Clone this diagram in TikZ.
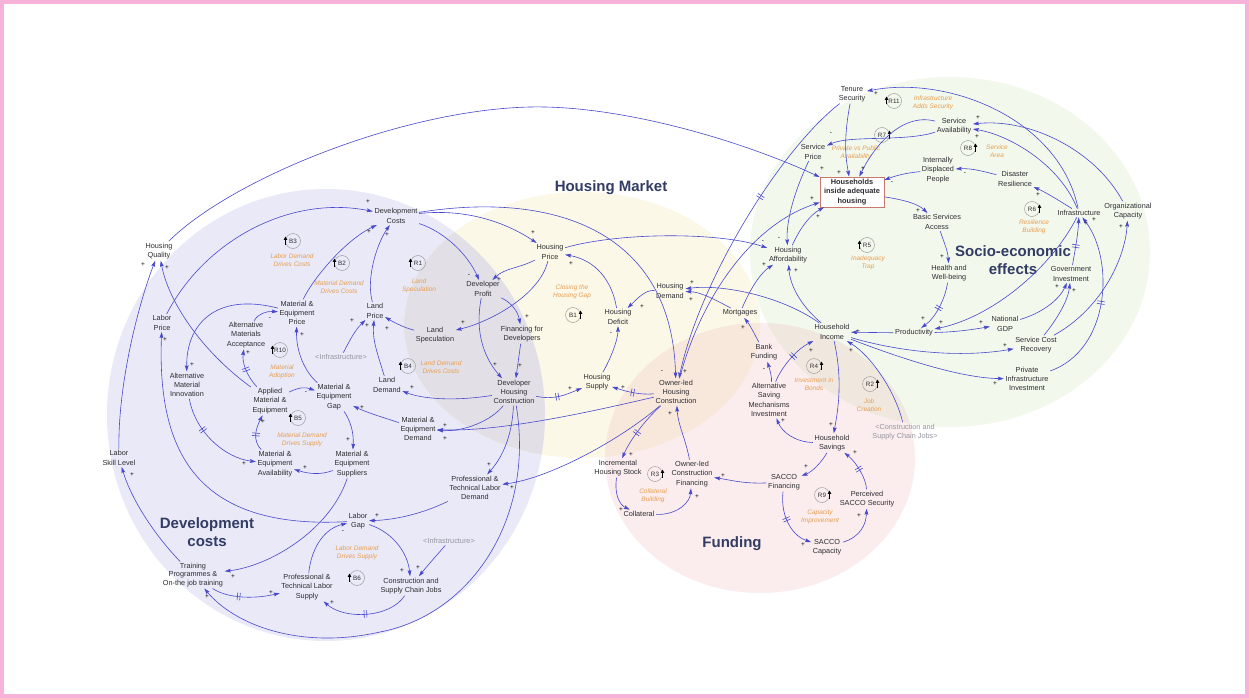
\documentclass[tikz,border=0pt]{standalone}
\usepackage{fontspec}
\setmainfont{Liberation Sans}
\usetikzlibrary{arrows.meta,decorations.markings,shapes.geometric}
\definecolor{frame}{RGB}{246,178,216}
\definecolor{edge}{RGB}{72,72,206}
\definecolor{txt}{RGB}{45,45,50}
\definecolor{ghost}{RGB}{150,150,160}
\definecolor{loopc}{RGB}{232,158,80}
\definecolor{navy}{RGB}{50,60,100}
\definecolor{cblue}{RGB}{233,233,247}
\definecolor{cyel}{RGB}{252,248,231}
\definecolor{cpink}{RGB}{251,237,237}
\definecolor{cgreen}{RGB}{242,248,236}
\definecolor{cby}{RGB}{226,224,230}
\definecolor{cyp}{RGB}{248,232,220}
\definecolor{cyg}{RGB}{243,245,228}
\definecolor{cpg}{RGB}{240,232,222}
\definecolor{boxc}{RGB}{200,120,110}
\newcommand\nf{\fontsize{7.3}{9.3}\selectfont}
\newcommand\sg[3]{\node[sgn] (s-#1-#2) at (#1,#2) {#3};}
\newcommand\lpm[5]{%
  \node[lpc] (#1) at (#2,#3) {#4};
  \draw[-{Triangle[length=3.4pt,width=3.4pt]}, line width=1.1pt, black]
    ([xshift=#5*7.5pt,yshift=-3.5pt]#1.center) -- ([xshift=#5*7.5pt,yshift=4.5pt]#1.center);}
\tikzset{
  nd/.style={align=center, font=\nf, text=txt, inner sep=1.5pt},
  gh/.style={align=center, font=\nf, text=ghost, inner sep=1.5pt},
  lpl/.style={align=center, font=\fontsize{6.5}{8.2}\selectfont\itshape, text=loopc, inner sep=0pt},
  lpc/.style={circle, draw=gray!75, line width=.5pt, inner sep=0pt, minimum size=15pt, font=\fontsize{6.3}{6.5}\selectfont, text=txt},
  sgn/.style={font=\fontsize{6.5}{6.5}\selectfont, text=black, inner sep=0pt},
  ttl/.style={font=\fontsize{15}{18}\selectfont\bfseries, text=navy, align=center},
  lk/.style={draw=edge, line width=.6pt, -{Stealth[length=6pt,width=3.8pt,inset=1pt]}},
  dly/.style={postaction={decorate, decoration={markings, mark=at position #1 with {%
      \draw[edge, line width=.6pt, -] (-1.3pt,-3.8pt) -- (-1.3pt,3.8pt) (1.3pt,-3.8pt) -- (1.3pt,3.8pt);}}}},
  dly/.default=0.5
}
\begin{document}
\begin{tikzpicture}[x=1pt,y=-1pt]
\useasboundingbox (0,0) rectangle (1249,698);
\fill[white] (0,0) rectangle (1249,698);
% regions
\fill[cblue] (326,415) ellipse [x radius=219pt, y radius=226pt];
\fill[cyel] (582,325) ellipse [x radius=178pt, y radius=133pt];
\fill[cpink] (760,458) ellipse [x radius=155pt, y radius=135pt];
\fill[cgreen] (950,252) ellipse [x radius=200pt, y radius=175pt];
\begin{scope}
  \clip (326,415) ellipse [x radius=219pt, y radius=226pt];
  \fill[cby] (582,325) ellipse [x radius=178pt, y radius=133pt];
\end{scope}
\begin{scope}
  \clip (582,325) ellipse [x radius=178pt, y radius=133pt];
  \fill[cyp] (760,458) ellipse [x radius=155pt, y radius=135pt];
\end{scope}
\begin{scope}
  \clip (582,325) ellipse [x radius=178pt, y radius=133pt];
  \fill[cyg] (950,252) ellipse [x radius=200pt, y radius=175pt];
\end{scope}
\begin{scope}
  \clip (760,458) ellipse [x radius=155pt, y radius=135pt];
  \fill[cpg] (950,252) ellipse [x radius=200pt, y radius=175pt];
\end{scope}
\draw[frame, line width=4pt] (2,2) rectangle (1247,696);

% titles
\node[ttl] (tHM) at (611,188) {Housing Market};
\node[ttl] (tSE) at (1013,260) {Socio-economic\\effects};
\node[ttl] (tDC) at (207,532) {Development\\costs};
\node[ttl] (tFU) at (732,544) {Funding};

% nodes: socio-economic
\node[nd] (ts) at (852,94) {Tenure\\Security};
\node[nd] (sa) at (954,126) {Service\\Availability};
\node[nd] (sp) at (813,152) {Service\\Price};
\node[draw=boxc, fill=white, line width=.7pt, align=center, text=txt,
      font=\fontsize{7.4}{9.4}\selectfont\bfseries, inner sep=2pt,
      minimum width=64pt, minimum height=30pt] (hh) at (852,192) {Households\\inside adequate\\housing};
\node[nd] (idp) at (938,170) {Internally\\Displaced\\People};
\node[nd] (dr) at (1015,179) {Disaster\\Resilience};
\node[nd] (inf) at (1079,213) {Infrastructure};
\node[nd] (oc) at (1128,211) {Organizational\\Capacity};
\node[nd] (bsa) at (937,222) {Basic Services\\Access};
\node[nd] (hw) at (949,273) {Health and\\Well-being};
\node[nd] (gi) at (1071,274) {Government\\Investment};
\node[nd] (prod) at (914,333) {Productivity};
\node[nd] (gdp) at (1005,324) {National\\GDP};
\node[nd] (scr) at (1036,345) {Service Cost\\Recovery};
\node[nd] (pii) at (1027,379) {Private\\Infrastructure\\Investment};
\node[nd] (ha) at (788,255) {Housing\\Affordability};
\node[nd] (hi) at (832,332) {Household\\Income};
\node[gh] (csj2) at (905,432) {<Construction and\\Supply Chain Jobs>};
% housing market
\node[nd] (mort) at (740,313) {Mortgages};
\node[nd] (hd) at (670,291) {Housing\\Demand};
\node[nd] (hdef) at (618,317) {Housing\\Deficit};
\node[nd] (hsup) at (597,382) {Housing\\Supply};
\node[nd] (olhc) at (676,392) {Owner-led\\Housing\\Construction};
\node[nd] (dhc) at (514,392) {Developer\\Housing\\Construction};
\node[nd] (ffd) at (522,334) {Financing for\\Developers};
\node[nd] (dp) at (483,289) {Developer\\Profit};
\node[nd] (hp) at (550,252) {Housing\\Price};
% funding
\node[nd] (bf) at (764,352) {Bank\\Funding};
\node[nd] (asm) at (769,400) {Alternative\\Saving\\Mechanisms\\Investment};
\node[nd] (hsav) at (832,443) {Household\\Savings};
\node[nd] (ihs) at (618,468) {Incremental\\Housing Stock};
\node[nd] (col) at (639,514) {Collateral};
\node[nd] (olcf) at (692,474) {Owner-led\\Construction\\Financing};
\node[nd] (sf) at (784,482) {SACCO\\Financing};
\node[nd] (pss) at (867,499) {Perceived\\SACCO Security};
\node[nd] (sc) at (827,547) {SACCO\\Capacity};
% development costs
\node[nd] (dc) at (396,216) {Development\\Costs};
\node[nd] (ls) at (435,335) {Land\\Speculation};
\node[nd] (lp) at (375,311) {Land\\Price};
\node[nd] (ld) at (387,385) {Land\\Demand};
\node[nd] (med) at (418,429) {Material \&\\Equipment\\Demand};
\node[nd] (hq) at (159,251) {Housing\\Quality};
\node[nd] (lbp) at (162,323) {Labor\\Price};
\node[nd] (mep) at (297,313) {Material \&\\Equipment\\Price};
\node[nd] (ama) at (246,335) {Alternative\\Materials\\Acceptance};
\node[nd] (ami) at (187,385) {Alternative\\Material\\Innovation};
\node[nd] (ame) at (270,401) {Applied\\Material \&\\Equipment};
\node[nd] (meg) at (334,397) {Material \&\\Equipment\\Gap};
\node[nd] (mea) at (275,464) {Material \&\\Equipment\\Availability};
\node[nd] (mes) at (352,464) {Material \&\\Equipment\\Suppliers};
\node[nd] (lsl) at (119,458) {Labor\\Skill Level};
\node[nd] (lg) at (358,521) {Labor\\Gap};
\node[nd, font=\fontsize{7.3}{8.4}\selectfont] (tp) at (193,575) {Training\\Programmes \&\\On-the job training};
\node[nd] (ptls) at (307,587) {Professional \&\\Technical Labor\\Supply};
\node[nd] (csj) at (411,586) {Construction and\\Supply Chain Jobs};
\node[nd] (ptld) at (475,488) {Professional \&\\Technical Labor\\Demand};
\node[gh] (inf1) at (341,357) {<Infrastructure>};
\node[gh] (inf2) at (449,541) {<Infrastructure>};

% loop markers
\lpm{r11}{894}{101}{R11}{-1}
\lpm{r7}{882}{135}{R7}{1}
\lpm{r8}{968}{148}{R8}{1}
\lpm{r6}{1032}{209}{R6}{1}
\lpm{r5}{867}{245}{R5}{-1}
\lpm{r4}{814}{366}{R4}{1}
\lpm{r2}{870}{384}{R2}{1}
\lpm{r9}{822}{495}{R9}{1}
\lpm{r3}{655}{474}{R3}{1}
\lpm{b1}{573}{315}{B1}{1}
\lpm{r1}{418}{263}{R1}{-1}
\lpm{b4}{408}{366}{B4}{-1}
\lpm{b3}{293}{241}{B3}{-1}
\lpm{b2}{342}{263}{B2}{-1}
\lpm{r10}{280}{350}{R10}{-1}
\lpm{b5}{298}{418}{B5}{-1}
\lpm{b6}{357}{578}{B6}{-1}

% loop labels
\node[lpl] (l11) at (933,103) {Infrastructure\\Adds Security};
\node[lpl] (l7) at (856,153) {Private vs Public\\Availability};
\node[lpl] (l8) at (997,151) {Service\\Area};
\node[lpl] (l6) at (1034,227) {Resilience\\Building};
\node[lpl] (l5) at (868,263) {Inadequacy\\Trap};
\node[lpl] (l4) at (814,384) {Investment in\\Bonds};
\node[lpl] (l2) at (869,405) {Job\\Creation};
\node[lpl] (l9) at (820,517) {Capacity\\Improvement};
\node[lpl] (l3) at (653,496) {Collateral\\Building};
\node[lpl] (lb1) at (572,292) {Closing the\\Housing Gap};
\node[lpl] (l1) at (419,286) {Land\\Speculation};
\node[lpl] (lb4) at (441,367) {Land Demand\\Drives Costs};
\node[lpl] (lb3) at (292,260) {Labor Demand\\Drives Costs};
\node[lpl] (lb2) at (339,287) {Material Demand\\Drives Costs};
\node[lpl] (l10) at (282,372) {Material\\Adoption};
\node[lpl] (lb5) at (302,440) {Material Demand\\Drives Supply};
\node[lpl] (lb6) at (357,553) {Labor Demand\\Drives Supply};

% ---------- links ----------
\draw[lk] (hq) .. controls (230,180) and (400,110) .. (530,107) .. controls (620,105) and (740,140) .. (hh);
\draw[lk] (dc) .. controls (470,208) and (510,225) .. (hp);
\draw[lk] (dc) .. controls (560,190) and (672,235) .. (olhc);
\draw[lk] (dc) .. controls (445,232) and (468,255) .. (dp);
\draw[lk] (hp) .. controls (520,268) and (505,268) .. (dp);
\draw[lk] (hp) .. controls (540,295) and (490,322) .. (ls);
\draw[lk] (ls) .. controls (405,328) and (395,323) .. (lp);
\draw[lk] (ld) .. controls (378,355) and (372,340) .. (lp);
\draw[lk] (inf1) .. controls (350,340) and (355,330) .. (lp);
\draw[lk] (lp) .. controls (366,280) and (376,245) .. (dc);
\draw[lk] (mep) .. controls (312,280) and (345,240) .. (dc);
\draw[lk] (lbp) .. controls (205,240) and (290,195) .. (dc);
\draw[lk] (lg) .. controls (195,530) and (157,450) .. (lbp);
\draw[lk] (lsl) .. controls (118,380) and (140,300) .. (hq);
\draw[lk] (ame) .. controls (200,350) and (168,300) .. (hq);
\draw[lk] (mep) .. controls (215,292) and (186,325) .. (ami);
\draw[lk] (ama) .. controls (258,314) and (266,311) .. (mep);
\draw[lk,dly=.5] (ame) .. controls (246,375) and (242,362) .. (ama);
\draw[lk] (ame) .. controls (300,387) and (305,387) .. (meg);
\draw[lk] (meg) .. controls (305,372) and (296,352) .. (mep);
\draw[lk,dly=.45] (mea) .. controls (252,440) and (256,428) .. (ame);
\draw[lk,dly=.35] (ami) .. controls (195,432) and (225,458) .. (mea);
\draw[lk] (mes) .. controls (320,475) and (310,474) .. (mea);
\draw[lk] (meg) .. controls (350,420) and (354,432) .. (mes);
\draw[lk] (med) .. controls (385,418) and (368,413) .. (meg);
\draw[lk] (dhc) .. controls (450,402) and (420,398) .. (ld);
\draw[lk] (dhc) .. controls (492,420) and (465,432) .. (med);
\draw[lk] (olhc) .. controls (590,412) and (500,432) .. (med);
\draw[lk,dly=.45] (dhc) .. controls (555,400) and (565,395) .. (hsup);
\draw[lk,dly=.5] (olhc) .. controls (640,395) and (628,392) .. (hsup);
\draw[lk] (hsup) .. controls (610,360) and (618,340) .. (hdef);
\draw[lk] (hd) .. controls (645,290) and (638,298) .. (hdef);
\draw[lk] (hdef) .. controls (612,280) and (595,260) .. (hp);
\draw[lk] (dp) .. controls (512,303) and (518,312) .. (ffd);
\draw[lk] (ffd) -- (dhc);
\draw[lk] (dp) .. controls (474,335) and (486,360) .. (dhc);
\draw[lk] (hp) .. controls (620,232) and (720,232) .. (ha);
\draw[lk] (dhc) .. controls (512,440) and (500,460) .. (ptld);
\draw[lk] (olhc) .. controls (620,440) and (550,478) .. (ptld);
\draw[lk] (ptld) .. controls (420,515) and (392,520) .. (lg);
\draw[lk] (ptls) .. controls (312,545) and (326,528) .. (lg);
\draw[lk] (lg) .. controls (395,533) and (408,555) .. (csj);
\draw[lk] (inf2) .. controls (437,555) and (428,565) .. (csj);
\draw[lk,dly=.5] (csj) .. controls (390,618) and (345,620) .. (ptls);
\draw[lk] (mes) .. controls (330,530) and (270,566) .. (tp);
\draw[lk,dly=.4] (tp) .. controls (225,597) and (250,600) .. (ptls);
\draw[lk] (dhc) .. controls (535,520) and (470,615) .. (380,632) .. controls (300,650) and (235,625) .. (tp);
\draw[lk] (tp) .. controls (150,530) and (130,495) .. (lsl);
% funding
\draw[lk,dly=.55] (olhc) .. controls (645,420) and (630,440) .. (ihs);
\draw[lk] (ihs) .. controls (614,495) and (620,505) .. (col);
\draw[lk] (col) .. controls (678,515) and (690,502) .. (olcf);
\draw[lk] (olcf) .. controls (686,440) and (678,425) .. (olhc);
\draw[lk] (sf) .. controls (745,484) and (730,480) .. (olcf);
\draw[lk] (hsav) .. controls (822,462) and (812,472) .. (sf);
\draw[lk,dly=.5] (pss) .. controls (866,478) and (856,462) .. (hsav);
\draw[lk,dly=.45] (sf) .. controls (780,520) and (795,537) .. (sc);
\draw[lk] (sc) .. controls (860,537) and (866,525) .. (pss);
\draw[lk] (hsav) .. controls (795,442) and (782,432) .. (asm);
\draw[lk] (asm) .. controls (772,378) and (770,370) .. (bf);
\draw[lk,dly=.55] (asm) .. controls (780,370) and (795,350) .. (hi);
\draw[lk] (hi) .. controls (843,380) and (838,410) .. (hsav);
\draw[lk] (bf) .. controls (755,335) and (750,325) .. (mort);
\draw[lk] (mort) .. controls (712,298) and (700,292) .. (hd);
\draw[lk] (hi) .. controls (780,295) and (720,284) .. (hd);
\draw[lk] (mort) .. controls (752,285) and (762,272) .. (ha);
\draw[lk] (hi) .. controls (800,305) and (790,285) .. (ha);
\draw[lk] (prod) -- (hi);
\draw[lk] (csj2) .. controls (895,390) and (870,355) .. (hi);
\draw[lk] (hi) .. controls (900,352) and (960,358) .. (scr);
\draw[lk] (hi) .. controls (900,358) and (960,378) .. (pii);
% socio-economic
\draw[lk,dly=.5] (hw) .. controls (945,300) and (935,318) .. (prod);
\draw[lk] (prod) .. controls (955,332) and (970,330) .. (gdp);
\draw[lk] (gdp) .. controls (1045,312) and (1060,298) .. (gi);
\draw[lk] (scr) .. controls (1058,318) and (1068,300) .. (gi);
\draw[lk] (inf) .. controls (1050,270) and (990,318) .. (prod);
\draw[lk,dly=.4] (gi) .. controls (1075,250) and (1078,235) .. (inf);
\draw[lk,dly=.5] (pii) .. controls (1110,350) and (1115,260) .. (inf);
\draw[lk] (scr) .. controls (1100,310) and (1125,260) .. (oc);
\draw[lk] (inf) .. controls (1055,198) and (1045,192) .. (dr);
\draw[lk] (dr) .. controls (985,172) and (972,168) .. (idp);
\draw[lk] (idp) .. controls (905,173) and (895,176) .. (hh);
\draw[lk] (inf) .. controls (1060,165) and (1010,135) .. (sa);
\draw[lk] (oc) .. controls (1095,150) and (1030,118) .. (sa);
\draw[lk] (inf) .. controls (1060,120) and (950,75) .. (ts);
\draw[lk] (hh) .. controls (905,200) and (918,204) .. (bsa);
\draw[lk] (bsa) .. controls (945,245) and (948,252) .. (hw);
\draw[lk] (ts) .. controls (843,140) and (846,160) .. (hh);
\draw[lk] (sa) .. controls (900,112) and (872,150) .. (hh);
\draw[lk] (sa) .. controls (905,142) and (850,135) .. (sp);
\draw[lk] (sp) .. controls (795,190) and (786,220) .. (ha);
\draw[lk] (ha) .. controls (800,228) and (810,215) .. (hh);
\draw[lk] (olhc) .. controls (700,300) and (750,225) .. (hh);
\draw[lk,dly=.38] (ts) .. controls (780,150) and (700,280) .. (olhc);

% ---------- polarity signs ----------
\sg{143}{265}{+}\sg{167}{268}{+}
\sg{368}{202}{+}\sg{369}{232}{+}\sg{387}{235}{+}
\sg{533}{233}{+}\sg{571}{264}{+}
\sg{469}{276}{-}\sg{499}{280}{+}
\sg{463}{323}{+}\sg{387}{329}{+}\sg{352}{321}{+}\sg{367}{326}{+}
\sg{527}{317}{+}\sg{495}{365}{+}\sg{520}{366}{+}
\sg{412}{388}{+}\sg{445}{426}{+}\sg{445}{439}{+}
\sg{570}{389}{+}\sg{623}{388}{+}
\sg{611}{334}{-}\sg{642}{307}{+}
\sg{763}{242}{-}\sg{779}{239}{-}\sg{764}{265}{+}\sg{796}{271}{+}
\sg{822}{169}{+}\sg{839}{173}{+}\sg{863}{169}{+}\sg{892}{183}{-}\sg{812}{199}{+}\sg{818}{217}{+}
\sg{831}{134}{-}\sg{876}{94}{+}\sg{978}{118}{+}\sg{977}{137}{+}
\sg{965}{174}{-}\sg{1038}{195}{+}\sg{918}{211}{+}
\sg{1086}{224}{+}\sg{1094}{220}{+}\sg{1121}{227}{+}
\sg{942}{257}{+}\sg{923}{319}{+}\sg{941}{323}{+}\sg{981}{323}{+}
\sg{1057}{287}{+}\sg{1074}{291}{+}\sg{1005}{346}{+}\sg{995}{384}{+}
\sg{692}{283}{+}\sg{691}{300}{+}\sg{743}{328}{+}
\sg{662}{372}{-}\sg{685}{372}{+}\sg{670}{414}{+}
\sg{764}{370}{-}\sg{858}{332}{+}\sg{811}{351}{+}\sg{851}{351}{+}
\sg{783}{421}{+}\sg{831}{425}{+}\sg{855}{453}{+}
\sg{806}{467}{+}\sg{723}{476}{+}\sg{697}{497}{+}\sg{803}{545}{+}\sg{859}{516}{+}
\sg{631}{455}{+}\sg{621}{510}{+}
\sg{489}{465}{+}\sg{512}{488}{+}
\sg{377}{516}{+}\sg{343}{532}{-}
\sg{402}{571}{+}\sg{418}{568}{+}
\sg{332}{603}{+}\sg{271}{593}{+}\sg{233}{577}{+}\sg{207}{597}{+}
\sg{132}{475}{+}\sg{244}{464}{+}\sg{305}{468}{+}\sg{348}{440}{+}
\sg{362}{408}{+}\sg{306}{393}{-}\sg{263}{422}{+}\sg{248}{353}{+}
\sg{270}{319}{-}\sg{302}{335}{+}\sg{192}{365}{+}\sg{165}{340}{+}
\end{tikzpicture}
\end{document}
